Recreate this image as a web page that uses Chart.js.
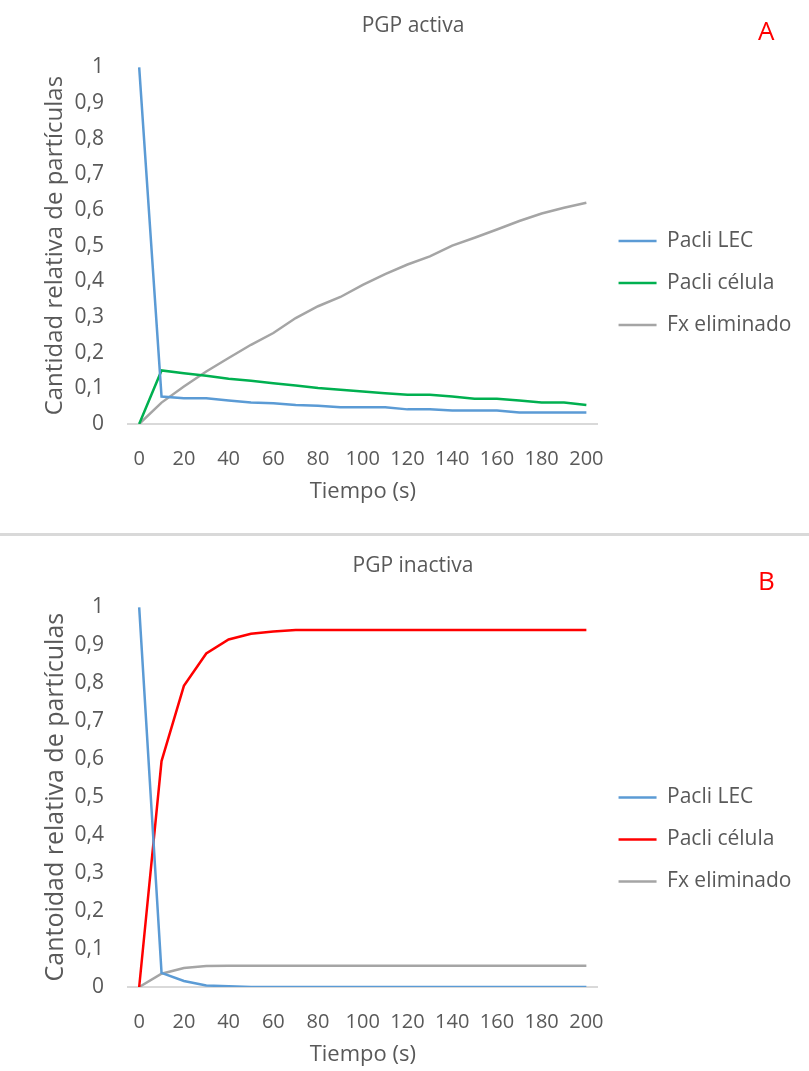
<!DOCTYPE html>
<html>
<head>
<meta charset="utf-8">
<script src="https://cdn.jsdelivr.net/npm/chart.js@4.4.1/dist/chart.umd.min.js"></script>
<style>
  body { margin: 0; background: #fff; overflow: hidden; }
  #page { position: relative; width: 809px; height: 1071px; font-family: "Open Sans", sans-serif; }
  .panel { position: absolute; left: 0; }
  #panelA { top: 0; }
  #panelB { top: 540px; }
  .sep { position: absolute; left: 0; top: 533px; width: 809px; height: 3px; background: #d9d9d9; }
  .letter { position: absolute; color: #ff0000; font-size: 26px; line-height: 1; }
</style>
</head>
<body>
<div id="page">
  <div class="panel" id="panelA"><canvas id="chartA" width="809" height="530"></canvas></div>
  <div class="sep"></div>
  <div class="panel" id="panelB"><canvas id="chartB" width="809" height="531"></canvas></div>
  <div class="letter" style="left:758px; top:17px;">A</div>
  <div class="letter" style="left:758px; top:567px;">B</div>
</div>
<script>
// 時間軸 (s)
const tiempos = [0, 10, 20, 30, 40, 50, 60, 70, 80, 90, 100, 110, 120, 130, 140, 150, 160, 170, 180, 190, 200];

// 凡例の名前
const nombresSeries = ['Pacli LEC', 'Pacli célula', 'Fx eliminado'];

// A: PGP activa
const lecActiva =      [1, 0.077, 0.072, 0.072, 0.066, 0.06, 0.058, 0.053, 0.051, 0.047, 0.047, 0.047, 0.041, 0.041, 0.0375, 0.0375, 0.0375, 0.032, 0.032, 0.032, 0.032];
const celulaActiva =   [0, 0.15, 0.142, 0.135, 0.127, 0.121, 0.114, 0.108, 0.101, 0.096, 0.091, 0.086, 0.082, 0.082, 0.077, 0.071, 0.071, 0.066, 0.06, 0.06, 0.053];
const eliminadoActiva = [0, 0.06, 0.105, 0.147, 0.185, 0.222, 0.255, 0.297, 0.33, 0.356, 0.39, 0.42, 0.447, 0.47, 0.5, 0.522, 0.545, 0.569, 0.59, 0.606, 0.62];

// B: PGP inactiva
const lecInactiva =      [1, 0.037, 0.016, 0.004, 0.002, 0, 0, 0, 0, 0, 0, 0, 0, 0, 0, 0, 0, 0, 0, 0, 0];
const celulaInactiva =   [0, 0.595, 0.793, 0.878, 0.915, 0.93, 0.936, 0.94, 0.94, 0.94, 0.94, 0.94, 0.94, 0.94, 0.94, 0.94, 0.94, 0.94, 0.94, 0.94, 0.94];
const eliminadoInactiva = [0, 0.035, 0.05, 0.055, 0.056, 0.056, 0.056, 0.056, 0.056, 0.056, 0.056, 0.056, 0.056, 0.056, 0.056, 0.056, 0.056, 0.056, 0.056, 0.056, 0.056];

// 縦軸の目盛り
const yMin = 0;
const yMax = 1;
const yPaso = 0.1;

const FONT = '"Open Sans", sans-serif';
const GRIS_TEXTO = '#595959';

// 折れ線グラフ作成
// areaBottom: 描画領域の下端, legendShift: 凡例の上の空き, yTitleSize: 縦軸タイトルの文字サイズ
function createLineChart(canvasId, title, yTitle, series, colors, areaBottom, legendShift, yTitleSize) {
  const ctx = document.getElementById(canvasId).getContext('2d');
  const h = ctx.canvas.height;
  const xHeight = h - areaBottom;

  return new Chart(ctx, {
    type: 'line',
    data: {
      labels: tiempos,
      datasets: series.map((s, i) => ({
        label: nombresSeries[i],
        data: s,
        borderColor: colors[i],
        backgroundColor: colors[i],
        borderWidth: 2.5,
        pointRadius: 0,
        tension: 0,
        fill: false,
      }))
    },
    options: {
      responsive: false,
      animation: false,
      layout: { padding: { left: 24.5, top: 0, bottom: 0, right: 7.5 } },
      plugins: {
        title: {
          display: true,
          text: title,
          color: GRIS_TEXTO,
          font: { family: FONT, size: 21, weight: 'normal' },
          padding: { top: 13, bottom: 29 },
        },
        legend: {
          position: 'right',
          maxWidth: 220,
          // 空のタイトルで凡例を下にずらす
          title: {
            display: true,
            text: '',
            font: { family: FONT, size: 10 },
            padding: { top: (legendShift - 12) / 2, bottom: (legendShift - 12) / 2 },
          },
          labels: {
            usePointStyle: true,
            pointStyle: 'line',
            pointStyleWidth: 38,
            color: GRIS_TEXTO,
            font: { family: FONT, size: 21 },
            padding: 21,
          }
        },
        tooltip: { enabled: false },
      },
      scales: {
        x: {
          type: 'category',
          offset: true,
          grid: { display: false, drawTicks: false },
          border: { display: true, color: '#d9d9d9', width: 2 },
          ticks: {
            color: GRIS_TEXTO,
            font: { family: FONT, size: 20 },
            padding: 23,
            autoSkip: false,
            maxRotation: 0,
            callback: function (v, i) {
              return i % 2 === 0 ? this.getLabelForValue(v) : '';
            }
          },
          title: {
            display: true,
            text: 'Tiempo (s)',
            color: GRIS_TEXTO,
            font: { family: FONT, size: 22 },
            padding: { top: 0, bottom: xHeight - 68 - 13 },
          },
          afterFit: (scale) => { scale.height = xHeight; },
        },
        y: {
          min: yMin,
          max: yMax,
          grid: { display: false, drawTicks: false },
          border: { display: false },
          ticks: {
            stepSize: yPaso,
            color: GRIS_TEXTO,
            font: { family: FONT, size: 21 },
            padding: 24,
            callback: (v) => String(Math.round(v * 10) / 10).replace('.', ','),
          },
          title: {
            display: true,
            text: yTitle,
            color: GRIS_TEXTO,
            font: { family: FONT, size: yTitleSize },
            padding: { top: 16, bottom: 0 },
          },
          afterFit: (scale) => { scale.width = 103.5; },
        }
      }
    }
  });
}

createLineChart('chartA', 'PGP activa', 'Cantidad relativa de partículas',
  [lecActiva, celulaActiva, eliminadoActiva],
  ['#5b9bd5', '#00b050', '#a5a5a5'], 424, 36, 24);

createLineChart('chartB', 'PGP inactiva', 'Cantoidad relativa de partículas',
  [lecInactiva, celulaInactiva, eliminadoInactiva],
  ['#5b9bd5', '#ff0000', '#a5a5a5'], 447, 68, 25);
</script>
</body>
</html>
